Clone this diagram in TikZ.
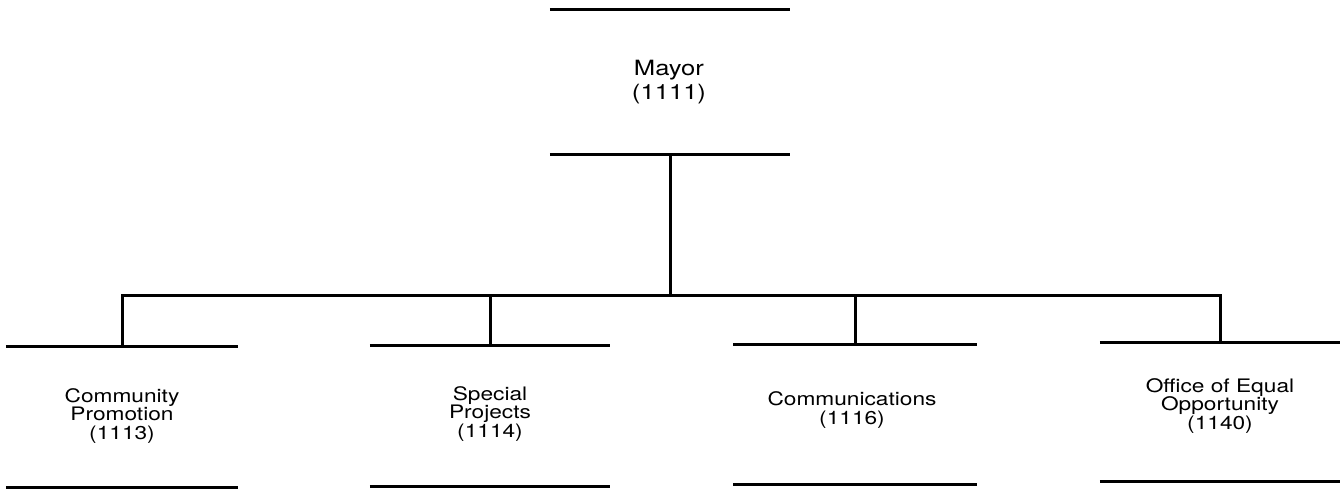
\documentclass[tikz,border=0pt]{standalone}
\usepackage{fontspec}
\setmainfont[FakeStretch=1.22]{TeX Gyre Heros}
\begin{document}
\begin{tikzpicture}[x=1pt,y=-1pt,
  unitbox/.style={inner sep=0pt, minimum width=#1},
  label text/.style={inner sep=0pt, align=center, font=\fontsize{18.6}{18.3}\selectfont},
  rule/.style={line width=3.3pt},
  conn/.style={line width=3pt}]
\useasboundingbox (0,0) rectangle (1344,489);
% boxes (top and bottom rules)
\node[unitbox=240pt, minimum height=144pt] (m) at (670,82) {};
\node[unitbox=232pt, minimum height=140pt] (c1) at (122,417) {};
\node[unitbox=240pt, minimum height=140pt] (c2) at (490,416) {};
\node[unitbox=243pt, minimum height=139pt] (c3) at (855,414.5) {};
\node[unitbox=240pt, minimum height=138pt] (c4) at (1220,412) {};
% texts
\node[label text, font=\fontsize{21}{24}\selectfont] (mt) at (669,82) {Mayor\\(1111)};
\node[label text] (c1t) at (122,416) {Community\\Promotion\\(1113)};
\node[label text] (c2t) at (490,414) {Special\\Projects\\(1114)};
\node[label text] (c3t) at (852,410) {Communications\\(1116)};
\node[label text] (c4t) at (1220,406) {Office of Equal\\Opportunity\\(1140)};
\foreach \n in {m,c1,c2,c3,c4}{
  \draw[rule] (\n.north west) -- (\n.north east);
  \draw[rule] (\n.south west) -- (\n.south east);
}
\coordinate (bus) at (669,295);
\draw[conn] (m.south) -- (m.south |- bus);
\draw[conn] (c1.north) -- (c1.north |- bus) -- (c4.north |- bus) -- (c4.north);
\draw[conn] (c2.north) -- (c2.north |- bus);
\draw[conn] (c3.north) -- (c3.north |- bus);
\end{tikzpicture}
\end{document}
